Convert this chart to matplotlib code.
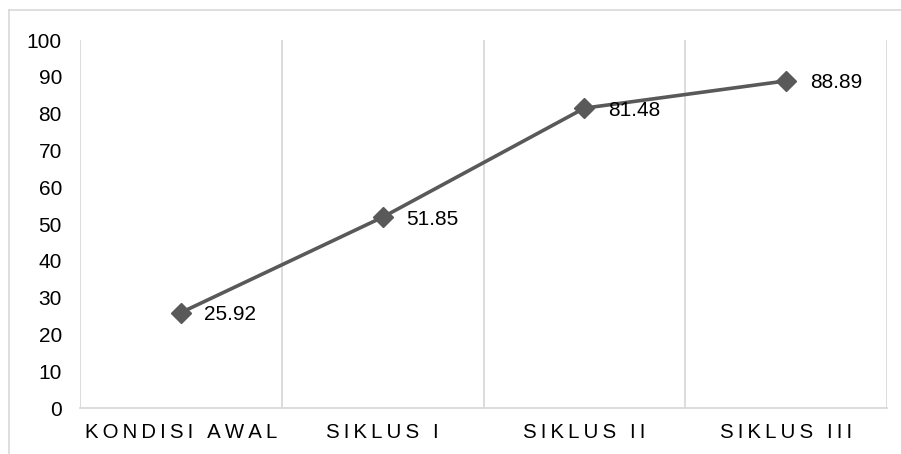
import matplotlib
matplotlib.use("Agg")
import matplotlib.pyplot as plt
from matplotlib.lines import Line2D

plt.rcParams['font.family'] = ['Liberation Sans', 'DejaVu Sans']

categories = ["KONDISI AWAL", "SIKLUS I", "SIKLUS II", "SIKLUS III"]
values = [25.92, 51.85, 81.48, 88.89]
yticks = list(range(0, 101, 10))

grey_line = "#595959"
grid_col = "#d9d9d9"


def spaced(s):
    # excel-style letter spacing
    return "\u2009".join(s)


fig = plt.figure(figsize=(9.01, 4.54), dpi=100)
ax = fig.add_axes([80 / 901, 1 - 408 / 454, (887 - 80) / 901, (408 - 40) / 454])

x = list(range(len(categories)))
ax.plot(x, values, color=grey_line, lw=2.6, marker="D", markersize=10,
        markerfacecolor=grey_line, markeredgecolor=grey_line, zorder=3)

for xi, v in zip(x, values):
    ax.annotate(f"{v:.2f}", (xi, v), xytext=(17, -1.5), textcoords="offset points",
                ha="left", va="center", fontsize=15, color="#000000")

ax.set_xlim(-0.5, len(categories) - 0.5)
ax.set_ylim(0, 100)
ax.set_yticks(yticks)
ax.set_xticks(x)
ax.set_xticklabels([spaced(c) for c in categories], fontsize=14.7)
ax.tick_params(axis="both", length=0, colors="#000000")
ax.tick_params(axis="y", pad=13, labelsize=15)
ax.tick_params(axis="x", pad=11)

# vertical grid between categories
for b in [i - 0.5 for i in range(len(categories) + 1)]:
    ax.axvline(b, color=grid_col, lw=1.3, zorder=1)

for s in ["top", "right", "left"]:
    ax.spines[s].set_visible(False)
ax.spines["bottom"].set_color(grid_col)
ax.spines["bottom"].set_linewidth(1.3)

# chart area border (only top and left visible in crop)
fig.add_artist(Line2D([9 / 901, 9 / 901], [0, 1 - 10 / 454], color=grid_col, lw=1.2))
fig.add_artist(Line2D([9 / 901, 1], [1 - 10 / 454, 1 - 10 / 454], color=grid_col, lw=1.2))

fig.savefig("out.png", dpi=100)
